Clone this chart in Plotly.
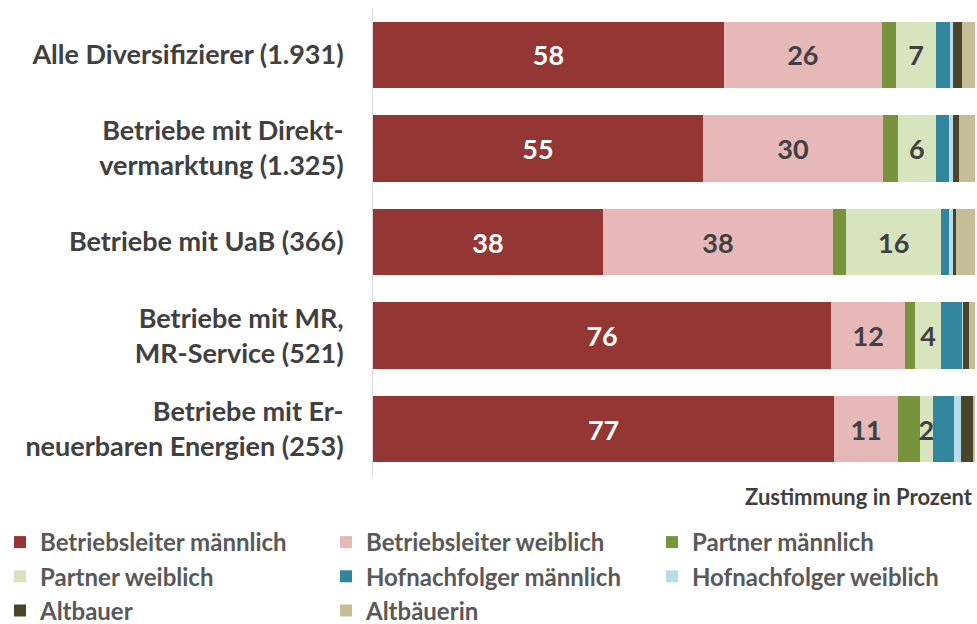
import plotly.graph_objects as go

categories = [
    "Alle Diversifizierer (1.931)",
    "Betriebe mit Direkt-<br>vermarktung (1.325)",
    "Betriebe mit UaB (366)",
    "Betriebe mit MR,<br>MR-Service (521)",
    "Betriebe mit Er-<br>neuerbaren Energien (253)",
]

series_names = [
    "Betriebsleiter männlich", "Betriebsleiter weiblich", "Partner männlich",
    "Partner weiblich", "Hofnachfolger männlich", "Hofnachfolger weiblich",
    "Altbauer", "Altbäuerin",
]

betriebsleiter_m = [58.3, 54.8, 38.2, 76.1, 76.6]
betriebsleiter_w = [26.2, 29.9, 38.2, 12.3, 10.6]
partner_m = [2.3, 2.5, 2.2, 1.7, 3.6]
partner_w = [6.8, 6.3, 15.8, 4.2, 2.2]
hofnachfolger_m = [2.3, 2.2, 1.3, 3.6, 3.5]
hofnachfolger_w = [0.4, 0.7, 0.8, 0.1, 1.2]
altbauer = [1.5, 1.0, 0.3, 1.0, 2.0]
altbaeuerin = [2.2, 2.7, 3.3, 1.2, 0.4]

values = [betriebsleiter_m, betriebsleiter_w, partner_m, partner_w,
          hofnachfolger_m, hofnachfolger_w, altbauer, altbaeuerin]
colors = ["#943634", "#E6B9B8", "#77933C", "#D7E4BD",
          "#31859C", "#B7DEE8", "#4A452A", "#C4BD97"]
labelled = {0: "white", 1: "#404040", 3: "#404040"}

FONT = "Lato, 'Open Sans', sans-serif"

fig = go.Figure()
for i, (name, vals, col) in enumerate(zip(series_names, values, colors)):
    kw = {}
    if i in labelled:
        kw = dict(text=[f"{v:.0f}" for v in vals], textposition="inside",
                  insidetextanchor="middle", textangle=0, constraintext="none",
                  textfont=dict(family=FONT, size=27, color=labelled[i], weight="bold"))
    fig.add_trace(go.Bar(
        y=categories, x=vals, name=name, orientation="h",
        marker=dict(color=col, line=dict(width=0)), **kw))

fig.update_layout(
    barmode="stack",
    bargap=0.29,
    width=977, height=624,
    margin=dict(l=373, r=2, t=8, b=148, autoexpand=False),
    plot_bgcolor="white", paper_bgcolor="white",
    font=dict(family=FONT, color="#404040"),
    showlegend=True,
    uniformtext=dict(mode=False),
    legend=dict(orientation="h", xref="paper", yref="paper",
                x=-0.6196, y=-0.094, xanchor="left", yanchor="top",
                traceorder="normal",
                entrywidth=281, entrywidthmode="pixels",
                font=dict(family=FONT, size=24, color="#595959", weight="bold"),
                itemsizing="constant", tracegroupgap=0),
    xaxis=dict(range=[0, 100], showgrid=False, showticklabels=False,
               zeroline=False, showline=False, fixedrange=True),
    yaxis=dict(autorange="reversed", showgrid=False, showline=True,
               linecolor="#D9D9D9", linewidth=1, ticks="", ticklabelstandoff=23,
               tickfont=dict(family=FONT, size=27, color="#404040", weight="bold")),
    annotations=[dict(text="Zustimmung in Prozent", xref="paper", yref="paper",
                      x=1, y=-0.01, xanchor="right", yanchor="top", showarrow=False,
                      font=dict(family=FONT, size=22, color="#404040", weight="bold"))],
)

fig.write_html("out.html", config={"displayModeBar": False},
               post_script="document.body.style.margin='0';document.body.style.overflow='hidden';")
